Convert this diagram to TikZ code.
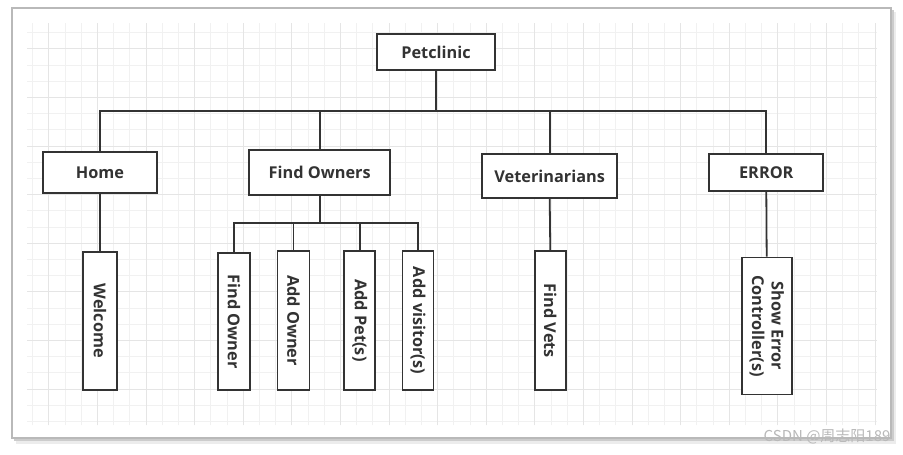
\documentclass[tikz,border=0pt]{standalone}
\usepackage{fontspec}
\setmainfont{Open Sans}
\newfontfamily\cjk{Noto Sans CJK SC}
\usepackage{tikz}
\usetikzlibrary{positioning}

\begin{document}
\begin{tikzpicture}[
    x=1pt, y=-1pt,
    box/.style={
        draw=black!80,
        line width=1.8pt,
        fill=white,
        inner sep=0pt,
        text=black!80,
        font=\fontsize{16.3}{19.5}\selectfont\bfseries
    },
    leaf/.style={
        box,
        rotate=-90,
        align=center
    },
    link/.style={
        line width=1.8pt,
        black!80
    }
]

\useasboundingbox (0,0) rectangle (903,455);

% Fons i marc

\fill[gray!15] (16,12) rectangle (896,444);
\fill[gray!40] (14,10) rectangle (894,441);

\draw[
    fill=white,
    draw=gray!55,
    line width=1.2pt
] (12,8) rectangle (891,438);

\draw[
    gray!11,
    line width=0.5pt,
    step=16.2pt
] (27,23) grid (877,425);

\draw[
    gray!20,
    line width=0.6pt,
    step=48.6pt
] (27,23) grid (877,425);


% Nivell 1

\node[box, minimum width=118, minimum height=36] (petclinic) at (436,52) {Petclinic};


% Nivell 2

\node[box, minimum width=114, minimum height=41] (home) at (100,172.5) {Home};
\node[box, minimum width=141, minimum height=45] (owners) at (319.7,172.2) {Find Owners};
\node[box, minimum width=135, minimum height=44] (vets) at (549.7,176) {Veterinarians};
\node[box, minimum width=114, minimum height=37] (error) at (766.3,172.5) {ERROR};


% Nivell 3

\node[leaf, minimum width=138, minimum height=34] (welcome) at (100,321) {Welcome};
\node[leaf, minimum width=137, minimum height=32] (findowner) at (234,321.5) {Find Owner};
\node[leaf, minimum width=139, minimum height=32] (addowner) at (293.5,320.5) {Add Owner};
\node[leaf, minimum width=139, minimum height=31] (addpet) at (359.7,320.5) {Add Pet(s)};
\node[leaf, minimum width=139, minimum height=31] (addvisitor) at (418,320.5) {Add visitor(s)};
\node[leaf, minimum width=139, minimum height=31] (findvets) at (550.3,320.7) {Find Vets};
\node[leaf, minimum width=137, minimum height=50] (showerror) at (766.7,326) {Show Error\\Controller(s)};


% Connexions

\coordinate (bus) at (436,111);
\coordinate (subbus) at (319.7,223);

\draw[link] (petclinic.south) -- (petclinic.south |- bus);
\draw[link] (home.north) |- (error.north |- bus) -- (error.north);
\draw[link] (owners.north) -- (owners.north |- bus);
\draw[link] (vets.north) -- (vets.north |- bus);

\draw[link] (home.south) -- (welcome.west);

\draw[link] (owners.south) -- (subbus);
\draw[link] (findowner.west) |- (addvisitor.west |- subbus) -- (addvisitor.west);
\draw[link] (addowner.west) -- (addowner.west |- subbus);
\draw[link] (addpet.west) -- (addpet.west |- subbus);

\draw[link] (vets.south) -- (findvets.west);
\draw[link] (error.south) -- (showerror.west);


% Marca d'aigua

\node[
    anchor=east,
    text=gray!55,
    font=\cjk\fontsize{15}{17}\selectfont
] (mark) at (894,436) {CSDN @周志阳189};

\end{tikzpicture}
\end{document}
